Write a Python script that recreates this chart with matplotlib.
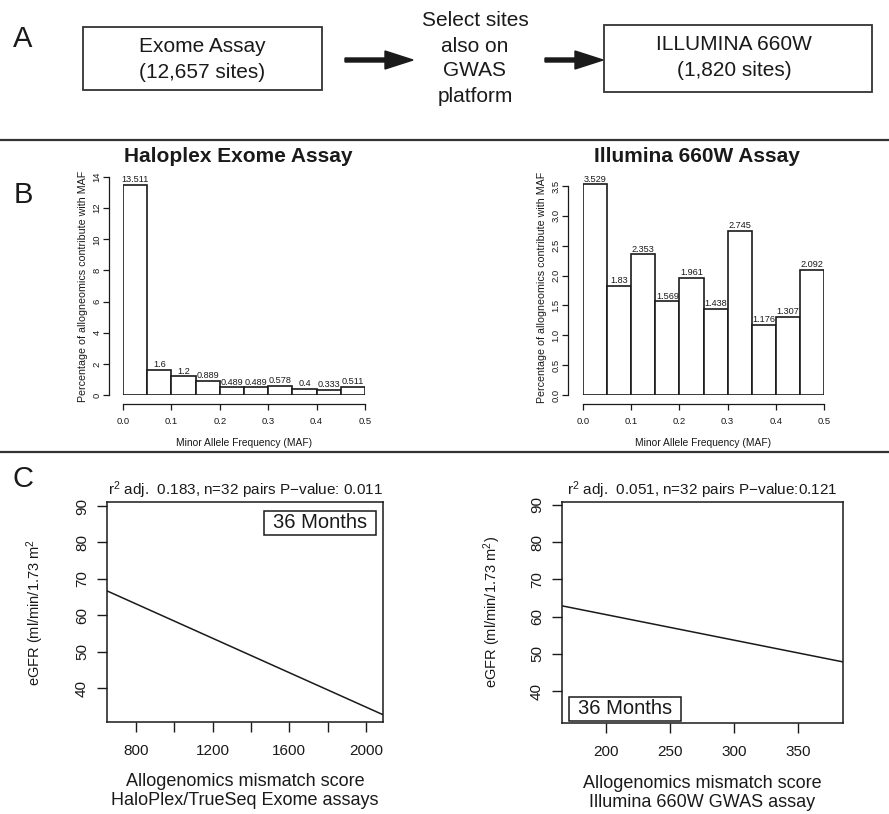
import matplotlib
matplotlib.use('Agg')
import matplotlib.pyplot as plt
from matplotlib.patches import Rectangle

plt.rcParams['font.family'] = ['Liberation Sans', 'DejaVu Sans']
plt.rcParams['mathtext.fontset'] = 'custom'
plt.rcParams['mathtext.rm'] = 'Liberation Sans'
plt.rcParams['mathtext.it'] = 'Liberation Sans:italic'
plt.rcParams['mathtext.bf'] = 'Liberation Sans:bold'
plt.rcParams['mathtext.default'] = 'regular'

# ---- data -------------------------------------------------------------
maf_edges = [0.0, 0.05, 0.1, 0.15, 0.2, 0.25, 0.3, 0.35, 0.4, 0.45, 0.5]
haloplex_pct = [13.511, 1.6, 1.2, 0.889, 0.489, 0.489, 0.578, 0.4, 0.333, 0.511]
illumina_pct = [3.529, 1.83, 2.353, 1.569, 1.961, 1.438, 2.745, 1.176, 1.307, 2.092]

# regression lines (abline) of eGFR at 36 months on mismatch score
exome_intercept, exome_slope = 82.02, -0.02361
gwas_intercept, gwas_slope = 74.31, -0.0688
exome_xlim = (649, 2089)
gwas_xlim = (166, 385)
exome_ylim = (30.7, 91.1)
gwas_ylim = (31.4, 90.8)
exome_xticks = [800, 1000, 1200, 1400, 1600, 1800, 2000]
exome_xticklabels = ['800', '', '1200', '', '1600', '', '2000']
gwas_xticks = [200, 250, 300, 350]
egfr_yticks = [40, 50, 60, 70, 80, 90]

W, H = 889, 814
INK = '#1a1a1a'


def rect(x0, y0, x1, y1):
    return [x0 / W, 1 - y1 / H, (x1 - x0) / W, (y1 - y0) / H]


fig = plt.figure(figsize=(W / 100, H / 100), dpi=100)

# ---- panel A + separators, drawn in pixel coordinates -----------------
ov = fig.add_axes([0, 0, 1, 1])
ov.set_xlim(0, W)
ov.set_ylim(H, 0)
ov.axis('off')

for y in (140, 452):
    ov.plot([0, W], [y, y], color='#333333', lw=1.6)

ov.text(23, 39, 'A', fontsize=21, ha='center', va='center', color=INK)
ov.text(23, 195, 'B', fontsize=21, ha='center', va='center', color=INK)
ov.text(23, 479, 'C', fontsize=21, ha='center', va='center', color=INK)

ov.add_patch(Rectangle((83, 27), 239, 63, fill=False, ec='#333333', lw=1.3))
ov.add_patch(Rectangle((604, 25), 268, 67, fill=False, ec='#333333', lw=1.3))
ov.text(202, 47, 'Exome Assay', fontsize=15, ha='center', va='center', color=INK)
ov.text(202, 72, '(12,657 sites)', fontsize=15, ha='center', va='center', color=INK)
ov.text(734, 45, 'ILLUMINA 660W', fontsize=15, ha='center', va='center', color=INK)
ov.text(734, 71, '(1,820 sites)', fontsize=15, ha='center', va='center', color=INK)
for i, line in enumerate(['Select sites', 'also on', 'GWAS', 'platform']):
    ov.text(475, 21 + 25 * i, line, fontsize=15, ha='center', va='center', color=INK)

ov.arrow(345, 60, 68, 0, width=4, head_width=18, head_length=28,
         length_includes_head=True, color=INK)
ov.arrow(545, 60, 58, 0, width=4, head_width=18, head_length=28,
         length_includes_head=True, color=INK)


# ---- panel B: MAF histograms -------------------------------------------
def maf_panel(box, values, ymax, yticks, title, left_px, title_x):
    x0, y0, x1, y1 = box
    ax = fig.add_axes(rect(*box))
    bars = ax.bar(maf_edges[:-1], values, width=0.05, align='edge',
                  facecolor='white', edgecolor=INK, lw=1.2)
    ax.bar_label(bars, labels=[str(v) for v in values], padding=0.5,
                 fontsize=6.6, color=INK)
    ax.set_xlim(0, 0.5)
    ax.set_ylim(0, ymax)
    for s in ('top', 'right'):
        ax.spines[s].set_visible(False)
    ax.spines['left'].set_position(('outward', (x0 - left_px) * 0.72))
    ax.spines['bottom'].set_position(('outward', 9 * 0.72))
    ax.spines['left'].set_bounds(0, yticks[-1])
    ax.spines['bottom'].set_bounds(0, 0.5)
    for s in ('left', 'bottom'):
        ax.spines[s].set_linewidth(0.9)
        ax.spines[s].set_color(INK)
    ax.set_xticks([0.0, 0.1, 0.2, 0.3, 0.4, 0.5])
    ax.set_yticks(yticks)
    ax.tick_params(length=4.3, width=0.9, labelsize=6.8, color=INK, labelcolor=INK)
    ax.tick_params(axis='x', pad=5)
    ax.tick_params(axis='y', pad=1)
    for lab in ax.get_yticklabels():
        lab.set_rotation(90)
        lab.set_va('center')
    ax.set_title(title, fontsize=15, fontweight='bold', color=INK, pad=0,
                 x=(title_x - x0) / (x1 - x0), y=1 + (y0 - 157) / (y1 - y0), va='center')
    ax.set_xlabel('Minor Allele Frequency (MAF)', fontsize=7.4, color=INK, va='center')
    ax.xaxis.set_label_coords(0.5, -(443 - y1) / (y1 - y0))
    ax.set_ylabel('Percentage of allogneomics contribute with MAF', fontsize=7.7,
                  color=INK, va='center')
    ax.yaxis.set_label_coords((left_px - 26 - x0) / (x1 - x0), 0.5)
    return ax


maf_panel((123, 177, 365, 395), haloplex_pct, 14, [0, 2, 4, 6, 8, 10, 12, 14],
          'Haloplex Exome Assay', 109, 238)
maf_panel((583, 180, 824, 395), illumina_pct, 3.6,
          [0.0, 0.5, 1.0, 1.5, 2.0, 2.5, 3.0, 3.5],
          'Illumina 660W Assay', 568, 697)


# ---- panel C: regression of eGFR on mismatch score ---------------------
def egfr_panel(box, intercept, slope, xlim, ylim, xticks, xticklabels, title,
               ylabel, xlabel, months_box, ylab_px, xlab_px):
    x0, y0, x1, y1 = box
    ax = fig.add_axes(rect(*box))
    ax.axline((0, intercept), slope=slope, color=INK, lw=1.1)
    ax.set_xlim(*xlim)
    ax.set_ylim(*ylim)
    ax.set_xticks(xticks)
    ax.set_xticklabels(xticklabels)
    ax.set_yticks(egfr_yticks)
    for s in ax.spines.values():
        s.set_linewidth(1.1)
        s.set_color(INK)
    ax.tick_params(length=7, width=1.0, labelsize=11, color=INK, labelcolor=INK)
    ax.tick_params(axis='x', pad=8.5)
    ax.tick_params(axis='y', pad=6)
    for lab in ax.get_yticklabels():
        lab.set_rotation(90)
        lab.set_va('center')
    ax.set_title(title, fontsize=11, color=INK, pad=0,
                 y=1 + (y0 - 490) / (y1 - y0), va='center')
    ax.set_ylabel(ylabel, fontsize=10.5, color=INK, va='center')
    ax.yaxis.set_label_coords((ylab_px - x0) / (x1 - x0), 0.5)
    ax.set_xlabel(xlabel, fontsize=13, color=INK, va='center', linespacing=1.1)
    ax.xaxis.set_label_coords(0.5, -(xlab_px - y1) / (y1 - y0))
    bx0, by0, bx1, by1 = months_box
    fx0, fx1 = (bx0 - x0) / (x1 - x0), (bx1 - x0) / (x1 - x0)
    fy0, fy1 = (y1 - by1) / (y1 - y0), (y1 - by0) / (y1 - y0)
    ax.add_patch(Rectangle((fx0, fy0), fx1 - fx0, fy1 - fy0, transform=ax.transAxes,
                           fill=False, ec=INK, lw=1.1))
    ax.text((fx0 + fx1) / 2, (fy0 + fy1) / 2, '36 Months', transform=ax.transAxes,
            fontsize=14.5, ha='center', va='center', color=INK)
    return ax


egfr_panel((107, 502, 383, 722), exome_intercept, exome_slope, exome_xlim, exome_ylim,
           exome_xticks, exome_xticklabels,
           'r$^2$ adj.  0.183, n=32 pairs P\u2212value: 0.011',
           'eGFR (ml/min/1.73 m$^2$',
           'Allogenomics mismatch score\nHaloPlex/TrueSeq Exome assays',
           (264, 511, 376, 535), 35, 791)
egfr_panel((562, 502, 843, 723), gwas_intercept, gwas_slope, gwas_xlim, gwas_ylim,
           gwas_xticks, [str(t) for t in gwas_xticks],
           'r$^2$ adj.  0.051, n=32 pairs P\u2212value:0.121',
           'eGFR (ml/min/1.73 m$^2$)',
           'Allogenomics mismatch score\nIllumina 660W GWAS assay',
           (569, 697, 681, 721), 492, 793)

fig.savefig('out.png', dpi=100)
